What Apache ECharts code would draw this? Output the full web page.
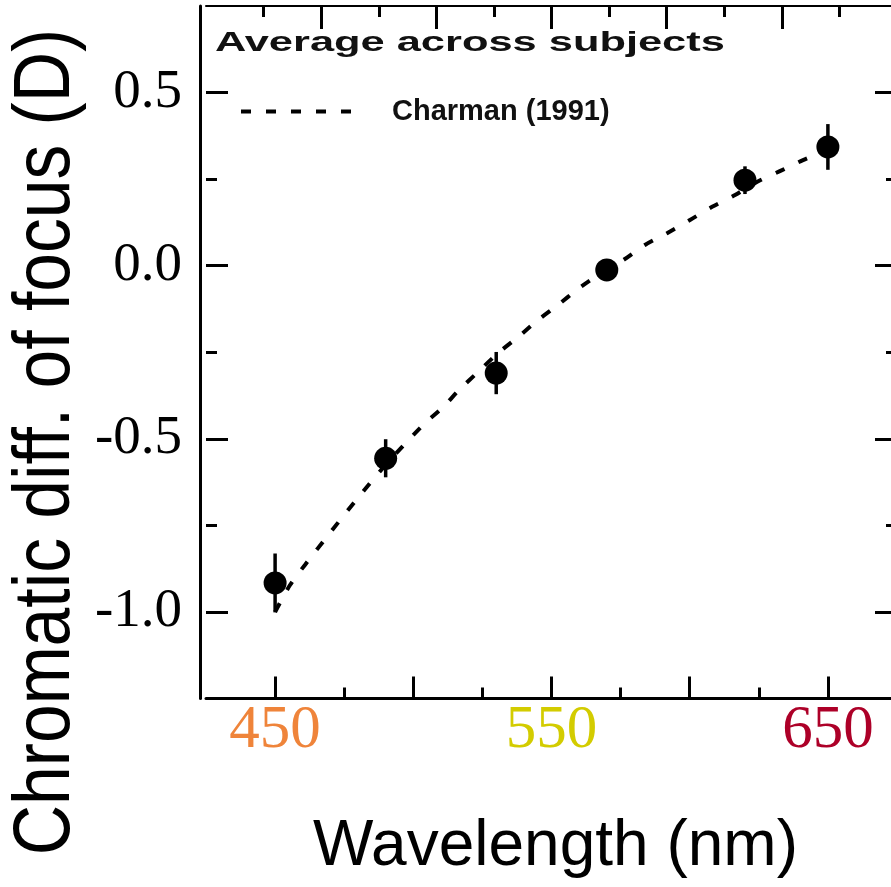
<!DOCTYPE html>
<html>
<head>
<meta charset="utf-8">
<script src="https://cdn.jsdelivr.net/npm/echarts@6/dist/echarts.min.js"></script>
<style>
  html, body { margin: 0; padding: 0; background: #fff; }
  #chart { width: 891px; height: 887px; }
</style>
</head>
<body>
<div id="chart"></div>
<script>
// ---- data ----
const wavelengths = [450, 490, 530, 570, 620, 650];
const focusDiff = [-0.916, -0.556, -0.31, -0.012, 0.247, 0.343];
const errHalf = [0.085, 0.055, 0.061, 0.02, 0.04, 0.066];

const charmanWl  = [450, 455.4, 460.8, 470, 480, 490, 503.5, 510.4, 516.9, 523.4, 530.7, 537.9, 545.1, 552.4, 559.6, 569.7, 575.9, 583.8, 591.8, 600.1, 608.1, 616.4, 624.3, 633.4, 641, 650];
const charmanVal = [-1.0, -0.922, -0.864, -0.77, -0.67, -0.575, -0.46, -0.411, -0.356, -0.307, -0.252, -0.206, -0.157, -0.113, -0.067, -0.012, 0.016, 0.06, 0.094, 0.132, 0.17, 0.204, 0.242, 0.276, 0.305, 0.334];

const xMajorTicks = [450, 500, 550, 600, 650];
const xMinorTicks = [475, 525, 575, 625];
const xTickLabels = [450, 550, 650];
const xLabelColors = ['#EF843A', '#D3CC00', '#AD0028'];
const yMajorTicks = [-1.0, -0.5, 0.0, 0.5];
const yMinorTicks = [-0.75, -0.25, 0.25];
const yTickLabels = [-1.0, -0.5, 0.0, 0.5];
const topMajorTicks = [2, 4, 6, 8, 10];
const topMinorTicks = [1, 3, 5, 7, 9, 11];

const titleText = 'Average across subjects';
const seriesName = 'Charman (1991)';
const xTitle = 'Wavelength (nm)';
const yTitle = 'Chromatic diff. of focus (D)';

// ---- chart ----
const chart = echarts.init(document.getElementById('chart'));

const X_MIN = 425, X_MAX = 675, Y_MIN = -1.25, Y_MAX = 0.75;
const black = '#000';

function xAx(extra) {
  return Object.assign({
    type: 'value', min: X_MIN, max: X_MAX, position: 'bottom',
    splitLine: { show: false }, axisLine: { show: false, onZero: false },
    axisTick: { show: false }, axisLabel: { show: false }
  }, extra);
}
function yAx(extra) {
  return Object.assign({
    type: 'value', min: Y_MIN, max: Y_MAX, interval: 0.25, position: 'left',
    splitLine: { show: false }, axisLine: { show: false, onZero: false },
    axisTick: { show: false }, axisLabel: { show: false }
  }, extra);
}

const option = {
  backgroundColor: '#fff',
  animation: false,
  grid: { left: 206, top: 6, right: -6, bottom: 188.4, containLabel: false, outerBoundsMode: 'none' },
  graphic: [
    {
      type: 'text',
      x: 215, y: 29,
      scaleX: 1.55,
      style: {
        text: titleText,
        font: 'bold 28px "Liberation Sans", Arial, sans-serif',
        fill: '#111',
        textVerticalAlign: 'top'
      }
    },
    {
      type: 'text',
      x: 47, y: 442,
      rotation: Math.PI / 2,
      scaleX: 0.87,
      style: {
        text: yTitle,
        font: '80px "Liberation Sans", Arial, sans-serif',
        fill: black,
        textAlign: 'center', textVerticalAlign: 'middle',
        align: 'center', verticalAlign: 'middle'
      }
    }
  ],
  legend: {
    data: [seriesName],
    left: 234, top: 92,
    itemWidth: 112, itemHeight: 14,
    itemStyle: { opacity: 0 },
    lineStyle: { color: black, width: 4, type: [10, 15] },
    textStyle: {
      fontFamily: '"Liberation Sans", Arial, sans-serif',
      fontWeight: 'bold', fontSize: 29, color: '#111',
      padding: [0, 0, 0, 34]
    }
  },
  xAxis: [
    xAx({
      axisLine: { show: true, onZero: false, lineStyle: { color: black, width: 3 } },
      axisTick: { show: true, inside: true, length: 22, lineStyle: { color: black, width: 3 }, customValues: xMajorTicks },
      axisLabel: {
        show: true, margin: 2, customValues: xTickLabels,
        fontFamily: '"Liberation Serif", "Times New Roman", serif', fontSize: 61,
        color: function (v) { return xLabelColors[xTickLabels.indexOf(Number(v))] || black; }
      },
      name: xTitle, nameLocation: 'middle', nameGap: 117,
      nameTextStyle: { fontFamily: '"Liberation Sans", Arial, sans-serif', fontSize: 64, color: black, padding: [0, 0, 0, 8] }
    }),
    xAx({
      axisTick: { show: true, inside: true, length: 11, lineStyle: { color: black, width: 3 }, customValues: xMinorTicks }
    }),
    {
      type: 'value', min: 0, max: 12, interval: 1, position: 'top',
      splitLine: { show: false }, axisLabel: { show: false },
      axisLine: { show: true, onZero: false, lineStyle: { color: black, width: 2 } },
      axisTick: { show: true, inside: true, length: 23, lineStyle: { color: black, width: 3 }, customValues: topMajorTicks }
    },
    {
      type: 'value', min: 0, max: 12, interval: 1, position: 'top',
      splitLine: { show: false }, axisLabel: { show: false }, axisLine: { show: false, onZero: false },
      axisTick: { show: true, inside: true, length: 11, lineStyle: { color: black, width: 3 }, customValues: topMinorTicks }
    }
  ],
  yAxis: [
    yAx({
      offset: 6,
      axisLine: { show: true, onZero: false, lineStyle: { color: black, width: 3 } }
    }),
    yAx({
      axisTick: { show: true, inside: true, length: 22, lineStyle: { color: black, width: 3 }, customValues: yMajorTicks },
      axisLabel: {
        show: true, margin: 24, customValues: yTickLabels,
        fontFamily: '"Liberation Serif", "Times New Roman", serif', fontSize: 55, color: black,
        formatter: function (v) { return Number(v).toFixed(1); }
      }
    }),
    yAx({
      axisTick: { show: true, inside: true, length: 11, lineStyle: { color: black, width: 3 }, customValues: yMinorTicks }
    }),
    yAx({
      position: 'right',
      axisLine: { show: true, onZero: false, lineStyle: { color: black, width: 3 } },
      axisTick: { show: true, inside: true, length: 22, lineStyle: { color: black, width: 3 }, customValues: yMajorTicks }
    }),
    yAx({
      position: 'right',
      axisTick: { show: true, inside: true, length: 11, lineStyle: { color: black, width: 3 }, customValues: yMinorTicks }
    })
  ],
  series: [
    {
      name: seriesName,
      type: 'line',
      xAxisIndex: 0, yAxisIndex: 0,
      data: charmanWl.map((w, i) => [w, charmanVal[i]]),
      smooth: 0.3,
      symbol: 'none',
      lineStyle: { color: black, width: 4, type: [10, 15] },
      itemStyle: { color: black },
      z: 2
    },
    {
      name: 'error',
      type: 'custom',
      xAxisIndex: 0, yAxisIndex: 0,
      data: wavelengths.map((w, i) => [w, focusDiff[i], errHalf[i]]),
      renderItem: function (params, api) {
        const x = api.value(0), y = api.value(1), e = api.value(2);
        const p1 = api.coord([x, y + e]);
        const p2 = api.coord([x, y - e]);
        return {
          type: 'line',
          shape: { x1: p1[0], y1: p1[1], x2: p2[0], y2: p2[1] },
          style: { stroke: black, lineWidth: 3.5 }
        };
      },
      z: 3
    },
    {
      name: 'Average',
      type: 'scatter',
      xAxisIndex: 0, yAxisIndex: 0,
      data: wavelengths.map((w, i) => [w, focusDiff[i]]),
      symbol: 'circle',
      symbolSize: 23,
      itemStyle: { color: black, opacity: 1 },
      z: 4
    }
  ]
};

chart.setOption(option);
</script>
</body>
</html>
